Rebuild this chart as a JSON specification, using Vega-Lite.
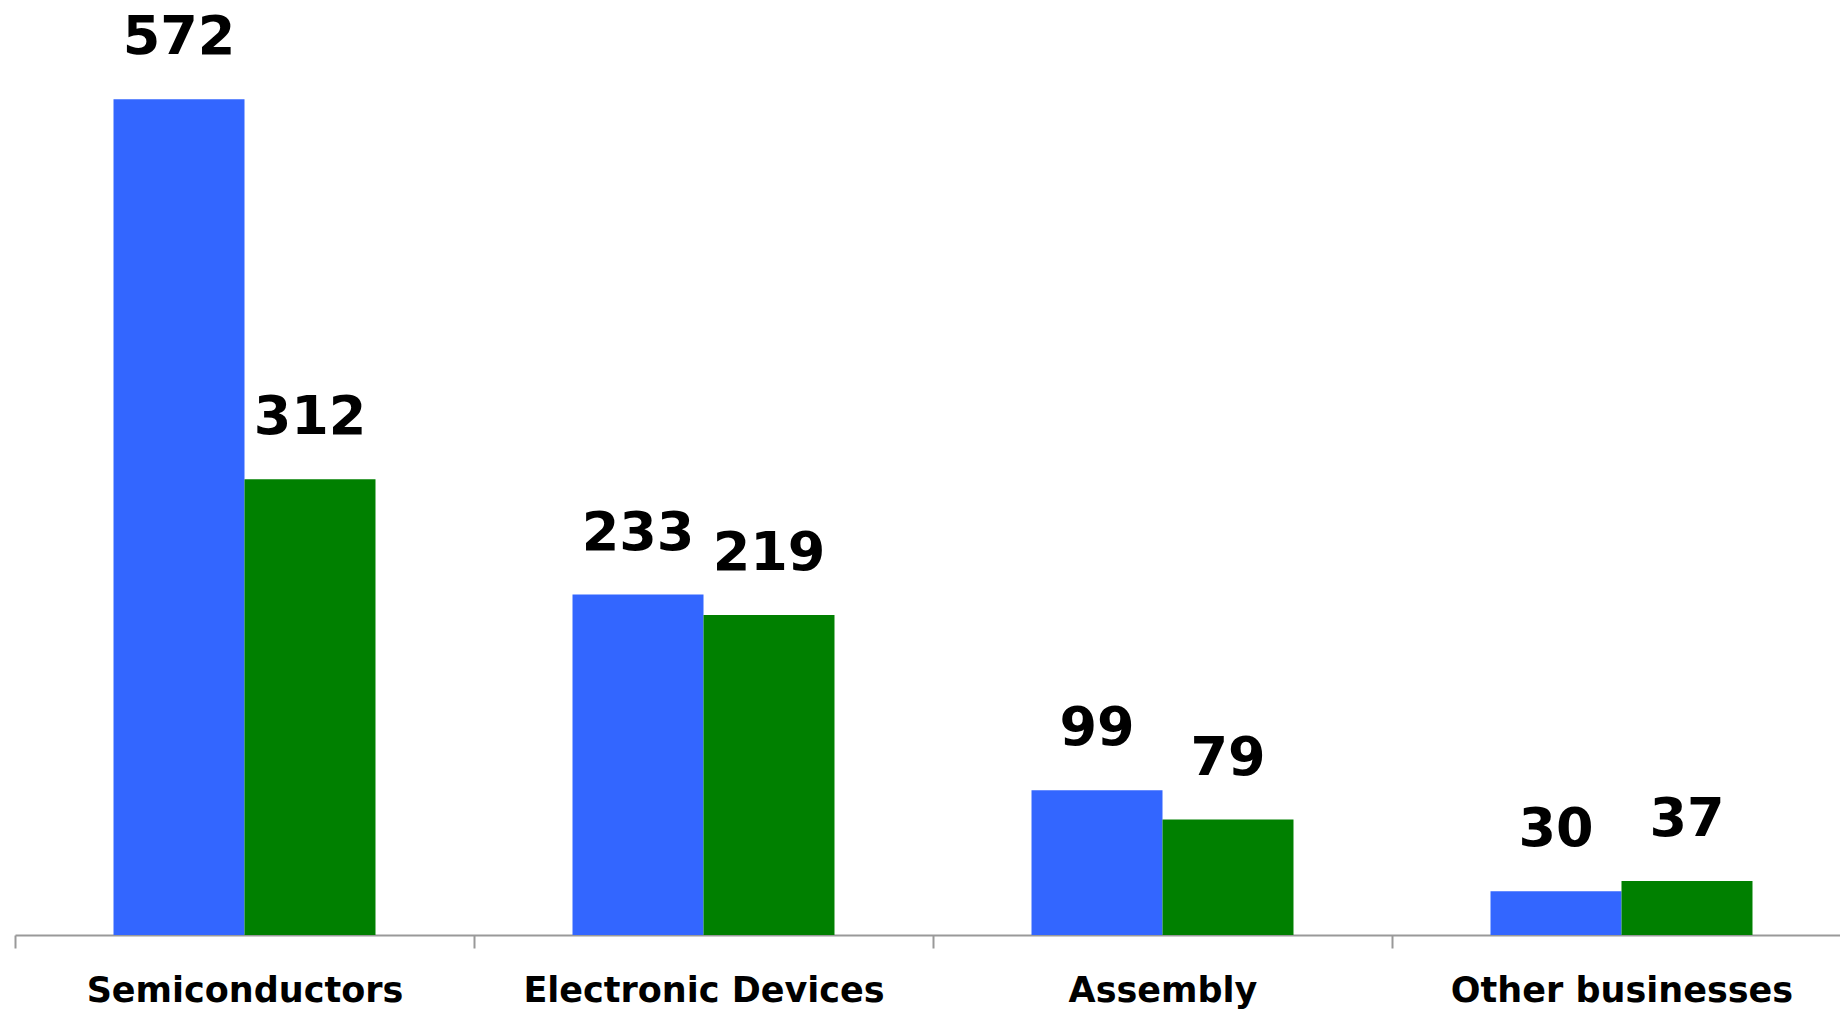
{
  "$schema": "https://vega.github.io/schema/vega-lite/v6.json",
  "width": 1836,
  "height": 935,
  "autosize": {"type": "none"},
  "padding": {"left": 15, "top": 0, "right": 0, "bottom": 74},
  "background": "white",
  "config": {"view": {"stroke": null}, "font": "DejaVu Sans"},
  "data": {
    "values": [
      {"segment": "Semiconductors", "period": "Previous", "value": 572},
      {"segment": "Semiconductors", "period": "Current", "value": 312},
      {"segment": "Electronic Devices", "period": "Previous", "value": 233},
      {"segment": "Electronic Devices", "period": "Current", "value": 219},
      {"segment": "Assembly", "period": "Previous", "value": 99},
      {"segment": "Assembly", "period": "Current", "value": 79},
      {"segment": "Other businesses", "period": "Previous", "value": 30},
      {"segment": "Other businesses", "period": "Current", "value": 37}
    ]
  },
  "encoding": {
    "x": {
      "field": "segment",
      "type": "nominal",
      "sort": ["Semiconductors", "Electronic Devices", "Assembly", "Other businesses"],
      "scale": {"paddingInner": 0, "paddingOuter": 0},
      "axis": {
        "title": null,
        "labelAngle": 0,
        "labelLimit": 0,
        "tickBand": "extent",
        "domainColor": "#999999",
        "domainWidth": 2,
        "tickColor": "#999999",
        "tickWidth": 2,
        "tickSize": 13,
        "labelFont": "DejaVu Sans",
        "labelFontSize": 35,
        "labelFontWeight": "bold",
        "labelColor": "#000000",
        "labelPadding": 25,
        "labelBaseline": "top"
      }
    },
    "xOffset": {
      "field": "period",
      "type": "nominal",
      "sort": ["Previous", "Current"],
      "scale": {"paddingInner": 0, "paddingOuter": 0.752}
    },
    "y": {
      "field": "value",
      "type": "quantitative",
      "scale": {"domain": [0, 640], "nice": false},
      "axis": null
    }
  },
  "layer": [
    {
      "mark": {"type": "bar"},
      "encoding": {
        "color": {
          "field": "period",
          "type": "nominal",
          "sort": ["Previous", "Current"],
          "scale": {"domain": ["Previous", "Current"], "range": ["#3366FF", "#008000"]},
          "legend": null
        }
      }
    },
    {
      "mark": {
        "type": "text",
        "baseline": "alphabetic",
        "dy": -45,
        "font": "DejaVu Sans",
        "fontSize": 54,
        "fontWeight": "bold",
        "color": "#000000"
      },
      "encoding": {
        "text": {"field": "value", "type": "quantitative"}
      }
    }
  ]
}
